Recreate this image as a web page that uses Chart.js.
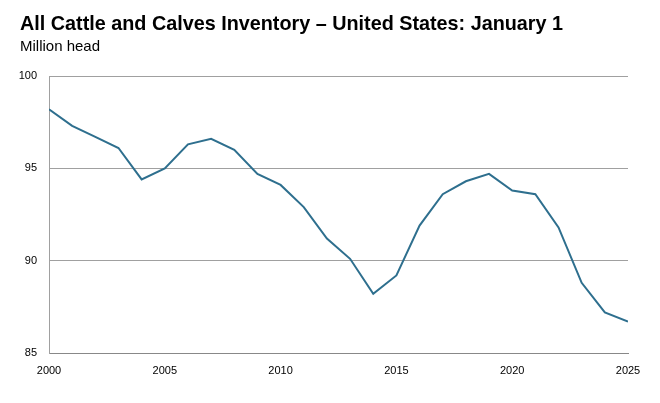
<!DOCTYPE html>
<html><head><meta charset="utf-8">
<script src="https://cdn.jsdelivr.net/npm/chart.js@4"></script>
<style>
body{margin:0;background:#fff;font-family:"Liberation Sans",Arial,sans-serif;}
#wrap{position:relative;width:660px;height:403px;}
#t{position:absolute;left:20px;top:12px;font-size:19.8px;font-weight:bold;color:#000;}
#s{position:absolute;left:20px;top:37px;font-size:15px;color:#000;}
canvas{position:absolute;left:0;top:0;}
</style></head><body>
<div id="wrap"><canvas id="c" width="660" height="403"></canvas>
<div id="t">All Cattle and Calves Inventory – United States: January 1</div>
<div id="s">Million head</div></div>
<script>
const years=[2000,2001,2002,2003,2004,2005,2006,2007,2008,2009,2010,2011,2012,2013,2014,2015,2016,2017,2018,2019,2020,2021,2022,2023,2024,2025];
const inventory=[98.2,97.3,96.7,96.1,94.4,95.0,96.3,96.6,96.0,94.7,94.1,92.9,91.2,90.1,88.2,89.2,91.9,93.6,94.3,94.7,93.8,93.6,91.8,88.8,87.2,86.7];
const yTicks=[85,90,95,100];
new Chart(document.getElementById('c'),{
type:'line',
data:{datasets:[{data:years.map((y,i)=>({x:y,y:inventory[i]})),borderColor:'#2e6f8e',borderWidth:2,pointRadius:0,tension:0,fill:false}]},
options:{responsive:false,animation:false,
layout:{padding:{left:0,right:32,top:76,bottom:20}},
plugins:{legend:{display:false},tooltip:{enabled:false}},
scales:{
x:{type:'linear',min:2000,max:2025,afterFit:s=>{s.height=30;},
 ticks:{stepSize:5,color:'#000',font:{size:11,family:'Liberation Sans'},maxRotation:0,callback:v=>v},
 grid:{display:false},border:{color:'#888',width:1}},
y:{min:85,max:100,afterFit:s=>{s.width=49;},afterBuildTicks:s=>{s.ticks=yTicks.map(v=>({value:v}));},
 ticks:{color:'#000',font:{size:11,family:'Liberation Sans'},padding:12},
 grid:{color:'#a0a0a0',lineWidth:1,drawTicks:false},border:{display:true,color:'#a0a0a0'}}
}}});
</script></body></html>
